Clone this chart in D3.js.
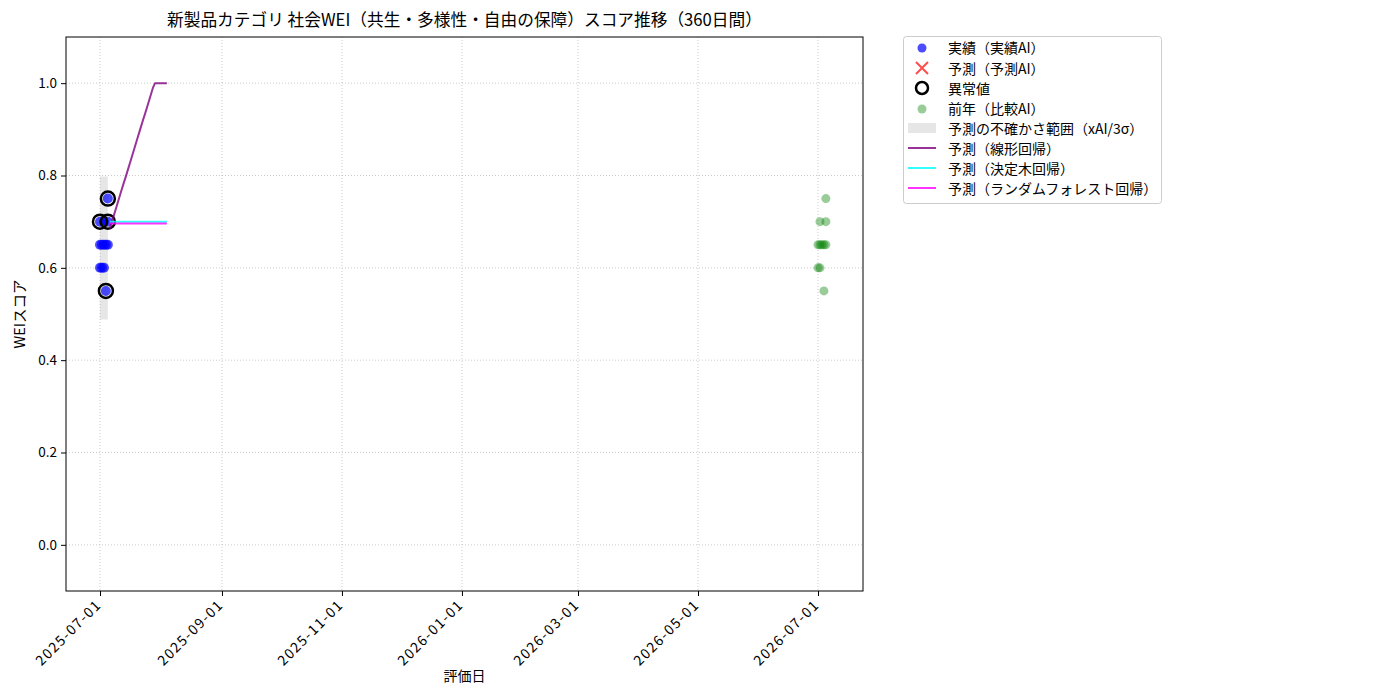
<!DOCTYPE html>
<html><head><meta charset="utf-8">
<script src="https://cdn.jsdelivr.net/npm/d3@7"></script>
<style>
body{margin:0;background:#fff;}
svg{font-family:"Noto Sans CJK JP","Noto Sans",sans-serif;}
</style></head>
<body><svg id="c" width="1400" height="700"></svg>
<script>
const titleText = "新製品カテゴリ 社会WEI（共生・多様性・自由の保障）スコア推移（360日間）";
const xLabel = "評価日";
const yLabel = "WEIスコア";
const xTickDates = ["2025-07-01","2025-09-01","2025-11-01","2026-01-01","2026-03-01","2026-05-01","2026-07-01"];
const yTicks = [0.0,0.2,0.4,0.6,0.8,1.0];

// actual (実績AI)
const actualDates = ["2025-07-01","2025-07-03","2025-07-05","2025-07-05","2025-07-01","2025-07-02","2025-07-03","2025-07-04","2025-07-05","2025-07-01","2025-07-02","2025-07-03","2025-07-04"];
const actualValues = [0.70,0.70,0.70,0.75,0.65,0.65,0.65,0.65,0.65,0.60,0.60,0.60,0.55];
// outliers
const outlierDates = ["2025-07-01","2025-07-05","2025-07-05","2025-07-04"];
const outlierValues = [0.70,0.70,0.75,0.55];
// prior year (比較AI)
const prevDates = ["2026-07-05","2026-07-02","2026-07-05","2026-07-01","2026-07-02","2026-07-03","2026-07-04","2026-07-05","2026-07-01","2026-07-02","2026-07-04"];
const prevValues = [0.75,0.70,0.70,0.65,0.65,0.65,0.65,0.65,0.60,0.60,0.55];
// uncertainty band
const bandDates = ["2025-07-01","2025-07-05"];
const bandLower = [0.488,0.488];
const bandUpper = [0.798,0.798];
// forecasts
const fcDates = ["2025-07-06","2025-07-07","2025-07-08","2025-07-09","2025-07-10","2025-07-11","2025-07-12","2025-07-13","2025-07-14","2025-07-15","2025-07-16","2025-07-17","2025-07-18","2025-07-19","2025-07-20","2025-07-21","2025-07-22","2025-07-23","2025-07-24","2025-07-25","2025-07-26","2025-07-27","2025-07-28","2025-07-29","2025-07-30","2025-07-31","2025-08-01","2025-08-02","2025-08-03","2025-08-04"];
const fcLinear = [0.685,0.699,0.713,0.727,0.741,0.755,0.769,0.783,0.796,0.810,0.824,0.838,0.852,0.866,0.880,0.894,0.908,0.922,0.935,0.949,0.963,0.977,0.991,1.0,1.0,1.0,1.0,1.0,1.0,1.0];
const fcTree = [0.70,0.70,0.70,0.70,0.70,0.70,0.70,0.70,0.70,0.70,0.70,0.70,0.70,0.70,0.70,0.70,0.70,0.70,0.70,0.70,0.70,0.70,0.70,0.70,0.70,0.70,0.70,0.70,0.70,0.70];
const fcForest = [0.696,0.696,0.696,0.696,0.696,0.696,0.696,0.696,0.696,0.696,0.696,0.696,0.696,0.696,0.696,0.696,0.696,0.696,0.696,0.696,0.696,0.696,0.696,0.696,0.696,0.696,0.696,0.696,0.696,0.696];

const legendLabels = ["実績（実績AI）","予測（予測AI）","異常値","前年（比較AI）","予測の不確かさ範囲（xAI/3σ）","予測（線形回帰）","予測（決定木回帰）","予測（ランダムフォレスト回帰）"];

const P = d3.timeParse("%Y-%m-%d");
const L=66,R=863,T=37,B=591;
const svg = d3.select("#c");
const x = d3.scaleTime().domain([new Date(2025,5,13,17,17), new Date(2026,6,23,21,0)]).range([L,R]);
const y = d3.scaleLinear().domain([-0.1,1.1]).range([B,T]);

// grid
const g = svg.append("g");
xTickDates.forEach(d=>{
  g.append("line").attr("x1",x(P(d))).attr("x2",x(P(d))).attr("y1",T).attr("y2",B)
   .attr("stroke","#b0b0b0").attr("stroke-width",0.8).attr("stroke-dasharray","1,2").attr("opacity",0.8);
});
yTicks.forEach(v=>{
  g.append("line").attr("x1",L).attr("x2",R).attr("y1",y(v)).attr("y2",y(v))
   .attr("stroke","#b0b0b0").attr("stroke-width",0.8).attr("stroke-dasharray","1,2").attr("opacity",0.8);
});

const plot = svg.append("g");
// band
const band = bandDates.map((d,i)=>({d:P(d),lo:bandLower[i],hi:bandUpper[i]}));
plot.append("path").datum(band)
  .attr("d", d3.area().x(p=>x(p.d)).y0(p=>y(p.lo)).y1(p=>y(p.hi)))
  .attr("fill","#808080").attr("opacity",0.2);

// actual
plot.selectAll(".a").data(actualDates.map((d,i)=>({d:P(d),v:actualValues[i]}))).enter()
  .append("circle").attr("cx",p=>x(p.d)).attr("cy",p=>y(p.v)).attr("r",5)
  .attr("fill","#0000ff").attr("fill-opacity",0.7);
// outliers
plot.selectAll(".o").data(outlierDates.map((d,i)=>({d:P(d),v:outlierValues[i]}))).enter()
  .append("circle").attr("cx",p=>x(p.d)).attr("cy",p=>y(p.v)).attr("r",7)
  .attr("fill","none").attr("stroke","#000").attr("stroke-width",2.5);
// prior
plot.selectAll(".p").data(prevDates.map((d,i)=>({d:P(d),v:prevValues[i]}))).enter()
  .append("circle").attr("cx",p=>x(p.d)).attr("cy",p=>y(p.v)).attr("r",4.5)
  .attr("fill","#008000").attr("fill-opacity",0.4);

// forecast lines
const line = d3.line().x(p=>x(p.d)).y(p=>y(p.v));
[[fcLinear,"#800080"],[fcTree,"#00ffff"],[fcForest,"#ff00ff"]].forEach(([vals,col])=>{
  plot.append("path").datum(fcDates.map((d,i)=>({d:P(d),v:vals[i]})))
   .attr("d",line).attr("fill","none").attr("stroke",col).attr("stroke-width",2).attr("stroke-opacity",0.8);
});

// axes
const xa = svg.append("g").attr("transform",`translate(0,${B})`)
  .call(d3.axisBottom(x).tickValues(xTickDates.map(P)).tickFormat(d3.timeFormat("%Y-%m-%d")).tickSize(5).tickSizeOuter(0));
xa.select(".domain").remove();
xa.selectAll("text").attr("font-size",14).attr("fill","#000").attr("font-family","'Noto Sans CJK JP',sans-serif")
  .attr("letter-spacing",1.4)
  .attr("text-anchor","end").attr("dy",null).attr("y",0).attr("x",0)
  .attr("transform","translate(-1,12) rotate(-45)").attr("dominant-baseline","middle");
const ya = svg.append("g").attr("transform",`translate(${L},0)`)
  .call(d3.axisLeft(y).tickValues(yTicks).tickFormat(d3.format(".1f")).tickSize(5).tickSizeOuter(0));
ya.select(".domain").remove();
ya.selectAll("text").attr("font-size",13.5).attr("fill","#000").attr("font-family","'Noto Sans CJK JP',sans-serif").attr("x",-9);
svg.append("rect").attr("x",L).attr("y",T).attr("width",R-L).attr("height",B-T)
  .attr("fill","none").attr("stroke","#000").attr("stroke-width",1);

// titles
svg.append("text").attr("x",(L+R)/2).attr("y",26).attr("text-anchor","middle").attr("font-size",16.7).text(titleText);
svg.append("text").attr("x",(L+R)/2).attr("y",681).attr("text-anchor","middle").attr("font-size",14).text(xLabel);
svg.append("text").attr("transform",`translate(25,${(T+B)/2}) rotate(-90)`).attr("text-anchor","middle").attr("font-size",14.5).text(yLabel);

// legend
const lg = svg.append("g");
lg.append("rect").attr("x",903.5).attr("y",36.5).attr("width",258).attr("height",167).attr("rx",3)
  .attr("fill","#fff").attr("stroke","#ccc").attr("stroke-width",1);
const rows = [47,68,88,108,128,148,168,188];
legendLabels.forEach((t,i)=>{
  lg.append("text").attr("x",948).attr("y",rows[i]).attr("dominant-baseline","central").attr("font-size",14).text(t);
});
lg.append("circle").attr("cx",922).attr("cy",rows[0]+1).attr("r",4.5).attr("fill","#0000ff").attr("fill-opacity",0.7);
lg.append("path").attr("d",`M916,${rows[1]-6}L928,${rows[1]+6}M928,${rows[1]-6}L916,${rows[1]+6}`)
  .attr("stroke","#ff0000").attr("stroke-opacity",0.7).attr("stroke-width",2);
lg.append("circle").attr("cx",922).attr("cy",rows[2]).attr("r",6).attr("fill","none").attr("stroke","#000").attr("stroke-width",2.5);
lg.append("circle").attr("cx",922).attr("cy",rows[3]+1).attr("r",4.5).attr("fill","#008000").attr("fill-opacity",0.4);
lg.append("rect").attr("x",908).attr("y",rows[4]-5).attr("width",28).attr("height",10).attr("fill","#808080").attr("opacity",0.2);
[["#800080",5],["#00ffff",6],["#ff00ff",7]].forEach(([c,i])=>{
  lg.append("line").attr("x1",908).attr("x2",936).attr("y1",rows[i]).attr("y2",rows[i])
    .attr("stroke",c).attr("stroke-width",2).attr("stroke-opacity",0.8);
});
</script></body></html>
